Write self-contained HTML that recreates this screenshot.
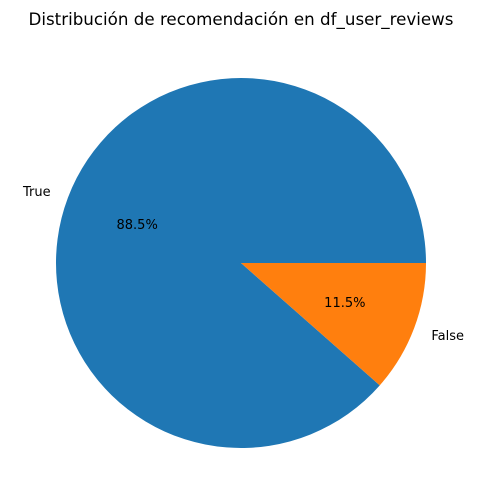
<!DOCTYPE html>
<html><head><meta charset="utf-8"><style>
body{margin:0;background:#fff;}
svg{display:block;font-family:"DejaVu Sans","Liberation Sans",sans-serif;}
</style></head><body>
<svg id="chart" width="481" height="504">
<text x="241" y="25" text-anchor="middle" font-size="16.7" fill="#000">Distribución de recomendación en df_user_reviews</text>
<g id="slices"></g>
</svg>
<script>
const labels = ["True", "False"];
const values = [88.5, 11.5];
const colors = ["#1f77b4", "#ff7f0e"];
const cx = 241, cy = 263, r = 185;
const g = document.getElementById('slices');
const ns = 'http://www.w3.org/2000/svg';
const total = values.reduce((a, b) => a + b, 0);
let start = 0;
function pt(a, rr) { return [cx + rr * Math.cos(a), cy - rr * Math.sin(a)]; }
values.forEach((v, i) => {
  const sweep = v / total * 2 * Math.PI;
  const end = start + sweep;
  const [x1, y1] = pt(start, r), [x2, y2] = pt(end, r);
  const large = sweep > Math.PI ? 1 : 0;
  const p = document.createElementNS(ns, 'path');
  p.setAttribute('d', `M${cx},${cy} L${x1},${y1} A${r},${r} 0 ${large} 0 ${x2},${y2} Z`);
  p.setAttribute('fill', colors[i]);
  
  
  g.appendChild(p);
  const mid = (start + end) / 2;
  const [lx, ly] = pt(mid, r * 1.1);
  const t = document.createElementNS(ns, 'text');
  t.setAttribute('x', lx); t.setAttribute('y', ly + 5);
  t.setAttribute('font-size', '13');
  t.setAttribute('text-anchor', Math.cos(mid) < 0 ? 'end' : 'start');
  t.textContent = labels[i];
  
  
  g.appendChild(t);
  const [px, py] = pt(mid, r * 0.6);
  const pc = document.createElementNS(ns, 'text');
  pc.setAttribute('x', px); pc.setAttribute('y', py + 5);
  pc.setAttribute('font-size', '13');
  pc.setAttribute('text-anchor', 'middle');
  pc.textContent = (v / total * 100).toFixed(1) + '%';
  
  
  g.appendChild(pc);
  start = end;
});
</script>
</body></html>
